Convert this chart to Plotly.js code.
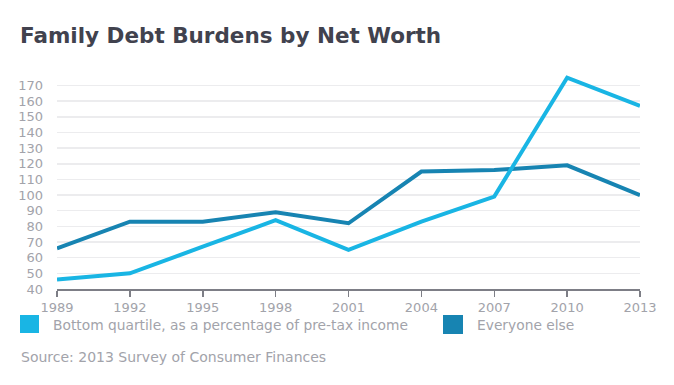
<!DOCTYPE html>
<html>
<head>
<meta charset="utf-8">
<script src="https://cdn.plot.ly/plotly-3.0.1.min.js"></script>
<style>
html,body{margin:0;padding:0;background:#fff;}
#chart{width:674px;height:385px;}
</style>
</head>
<body>
<div id="chart"></div>
<script>
var years = [1989, 1992, 1995, 1998, 2001, 2004, 2007, 2010, 2013];
var bottomQuartile = [46, 50, 67, 84, 65, 83, 99, 175, 157];
var everyoneElse = [66, 83, 83, 89, 82, 115, 116, 119, 100];
var seriesNames = ["Bottom quartile, as a percentage of pre-tax income", "Everyone else"];
var yTicks = [40, 50, 60, 70, 80, 90, 100, 110, 120, 130, 140, 150, 160, 170];
var titleText = "Family Debt Burdens by Net Worth";
var sourceText = "Source: 2013 Survey of Consumer Finances";

var lightBlue = "#19b5e4";
var darkBlue = "#1784b2";
var gray = "#a2a3aa";
var font = "'DejaVu Sans', sans-serif";

var traces = [
  {x: years, y: everyoneElse, name: seriesNames[1], mode: "lines",
   line: {color: darkBlue, width: 4}, hoverinfo: "x+y"},
  {x: years, y: bottomQuartile, name: seriesNames[0], mode: "lines",
   line: {color: lightBlue, width: 4}, hoverinfo: "x+y"}
];

var W = 674, H = 385;
var plotL = 57, plotR = W - 34, plotT = 73, plotB = H - 96;
function paperX(x){ return (x - plotL) / (plotR - plotL); }
function paperY(y){ return (plotB - y) / (plotB - plotT); }

var layout = {
  width: W, height: H,
  margin: {l: plotL, r: W - plotR, t: plotT, b: H - plotB},
  paper_bgcolor: "#fff", plot_bgcolor: "#fff",
  showlegend: false,
  font: {family: font, color: gray},
  title: {text: titleText, x: 20 / W, xanchor: "left", y: 1 - 35 / H, yanchor: "middle",
          font: {family: font, size: 21.5, color: "#41424e", weight: 700}},
  xaxis: {
    range: [1989, 2013], tickvals: years, ticktext: years.map(String),
    showgrid: false, zeroline: false,
    showline: true, linecolor: "#7d7e86", linewidth: 1.5,
    ticks: "outside", ticklen: 6, tickwidth: 1.5, tickcolor: "#7d7e86",
    tickfont: {family: font, size: 13, color: gray}, fixedrange: true
  },
  yaxis: {
    range: [40, 178], tickvals: yTicks, ticktext: yTicks.map(String),
    showgrid: true, gridcolor: "#ececee", gridwidth: 1.5,
    zeroline: false, showline: false, ticks: "",
    ticklabelstandoff: 13,
    tickfont: {family: font, size: 13, color: gray}, fixedrange: true
  },
  shapes: [
    {type: "rect", xref: "paper", yref: "paper",
     x0: paperX(20), x1: paperX(39), y0: paperY(333), y1: paperY(315),
     fillcolor: lightBlue, line: {width: 0}},
    {type: "rect", xref: "paper", yref: "paper",
     x0: paperX(443), x1: paperX(463), y0: paperY(334), y1: paperY(315),
     fillcolor: darkBlue, line: {width: 0}}
  ],
  annotations: [
    {text: seriesNames[0], x: paperX(51), y: paperY(325)},
    {text: seriesNames[1], x: paperX(475), y: paperY(325)},
    {text: sourceText, x: paperX(19), y: paperY(357)}
  ].map(function(a, i){
    a.xref = "paper"; a.yref = "paper"; a.showarrow = false;
    a.xanchor = "left"; a.yanchor = "middle";
    a.font = {family: font, size: i === 2 ? 14 : 13.8, color: gray};
    return a;
  })
};

Plotly.newPlot("chart", traces, layout, {displayModeBar: false, staticPlot: true});
</script>
</body>
</html>
